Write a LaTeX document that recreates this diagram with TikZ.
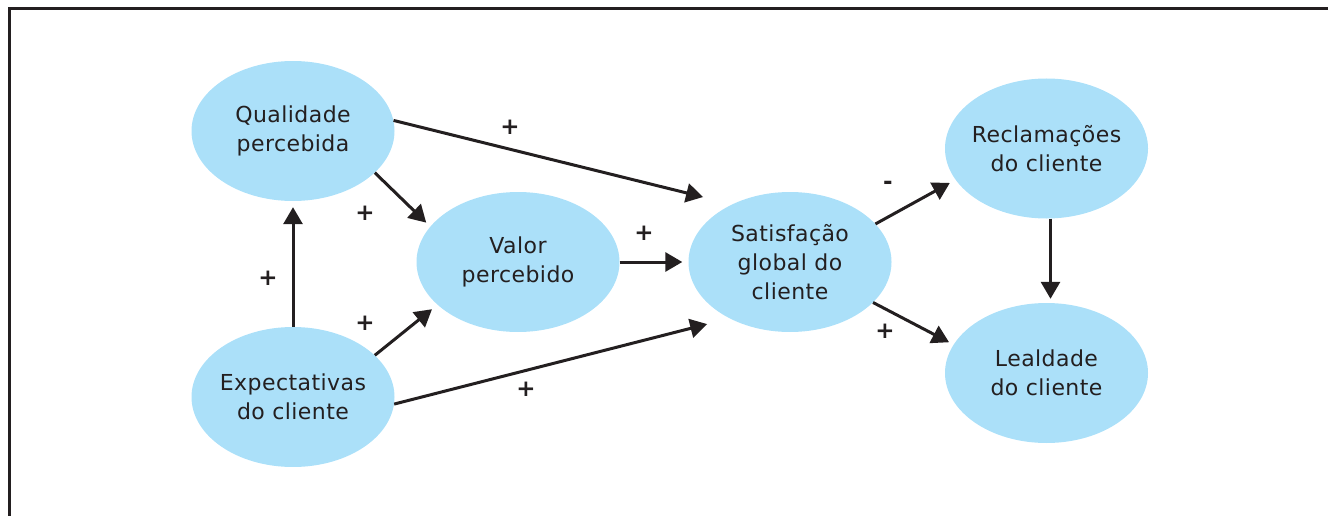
\documentclass[tikz,border=0pt]{standalone}
\usepackage{fontspec}
\setmainfont{DejaVu Sans}[LetterSpace=2]
\usetikzlibrary{shapes.geometric,arrows.meta}
\definecolor{bub}{RGB}{171,224,249}
\definecolor{ink}{RGB}{35,31,32}
\begin{document}
\begin{tikzpicture}[x=1pt,y=-1pt,
  bubble/.style={ellipse, fill=bub, minimum width=203pt, minimum height=140pt,
    inner xsep=-30pt, inner ysep=-10pt, align=center, text=ink, font=\fontsize{22}{29}\selectfont},
  conn/.style={draw=ink, line width=3pt, -{Triangle[length=17pt,width=19pt]}},
  sign/.style={text=ink, font=\fontsize{23}{24}\selectfont\bfseries, inner sep=0pt},
  frame/.style={draw=ink, line width=3pt}]
\useasboundingbox (0,0) rectangle (1328,516);
\clip (0,0) rectangle (1328,516);
\coordinate (fr1) at (1340,9);
\coordinate (fr2) at (9.5,9);
\coordinate (fr3) at (9.5,530);
\draw[frame] (fr1) -- (fr2) -- (fr3);

\node[bubble] (qual) at (293,131) {Qualidade\\percebida};
\node[bubble] (valor) at (518,262) {Valor\\percebido};
\node[bubble] (exp) at (293,397) {Expectativas\\do cliente};
\node[bubble] (sat) at (790,262) {Satisfação\\global do\\cliente};
\node[bubble] (rec) at (1046.5,148.5) {Reclamações\\do cliente};
\node[bubble] (leal) at (1046.5,373) {Lealdade\\do cliente};

\draw[conn, shorten >=6pt] (exp.north) -- (qual.south);
\draw[conn, shorten >=5.6pt] (qual.-27) -- (valor.158);
\draw[conn, shorten >=7pt] (exp.27) -- (valor.208);
\draw[conn, shorten >=30pt] (qual.6) -- (sat.135);
\draw[conn, shorten >=23pt] (exp.-4) -- (sat.223);
\draw[conn, shorten >=6pt] (valor.east) -- (sat.west);
\draw[conn, shorten >=6.5pt] (sat.24) -- (rec.199);
\draw[conn, shorten >=5pt] (sat.-26) -- (leal.163);
\draw[conn, shorten >=4pt] ([xshift=4pt]rec.south) -- ([xshift=4pt]leal.north);

\node[sign] (p1) at (510,127) {+};
\node[sign] (p2) at (365,213) {+};
\node[sign] (p3) at (268,278) {+};
\node[sign] (p4) at (365,323) {+};
\node[sign] (p5) at (644,233) {+};
\node[sign] (p6) at (526,389) {+};
\node[sign] (p7) at (885,331) {+};
\node[sign] (m1) at (888,185) {-};
\end{tikzpicture}
\end{document}
